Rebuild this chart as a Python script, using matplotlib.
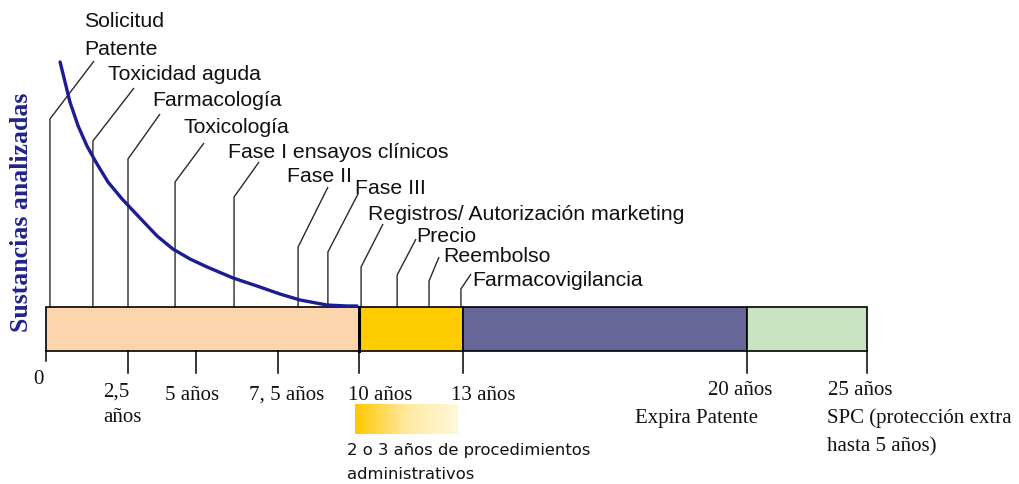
import numpy as np
import matplotlib
matplotlib.use("Agg")
import matplotlib.pyplot as plt
from matplotlib.colors import LinearSegmentedColormap

# ---------------- data ----------------
# timeline segments (years)
seg_start = [0, 10, 13, 20]
seg_end = [10, 13, 20, 25]
seg_colors = ["#FCD5AC", "#FFCC00", "#666699", "#C9E4C0"]

# tick positions (years)
tick_years = [0, 2.5, 5, 7.5, 10, 13, 20, 25]

# milestones: label and year where they happen
milestones = ["Solicitud\nPatente", "Toxicidad aguda", "Farmacología", "Toxicología",
              "Fase I ensayos clínicos", "Fase II", "Fase III",
              "Registros/ Autorización marketing", "Precio", "Reembolso",
              "Farmacovigilancia"]
milestone_years = [0.12, 1.43, 2.5, 4.23, 6.16, 8.12, 9.04, 10.06, 11.10, 12.02, 12.94]

# "sustancias analizadas" curve (relative amount vs years)
curve_years = [0.43, 0.58, 0.73, 0.98, 1.25, 1.52, 1.89, 2.32, 2.87, 3.57, 4.15,
               4.78, 5.34, 6.13, 6.86, 7.56, 8.18, 9.01, 9.63, 9.94]
curve_vals = [245, 225, 205, 181, 161, 145, 125, 108, 91, 71, 58,
              48, 40, 29, 21, 13, 7, 2, 1, 1]

# ---------------- layout ----------------
W, H = 1019, 485
BASE_Y = 308  # pixel row of bar top

# piecewise scale: years -> pixel column (the original diagram is not linear)
scale_years = [-1.4024, 0, 2.5, 5, 7.5, 10, 13, 20, 25, 31.333]
scale_px = [0, 46, 128, 196, 278, 359, 463, 747, 867, 1019]


def fwd(y):
    return np.interp(y, scale_years, scale_px)


def inv(p):
    return np.interp(p, scale_px, scale_years)


def py2v(py):
    return BASE_Y - py


fig = plt.figure(figsize=(W / 100, H / 100), dpi=100)
ax = fig.add_axes([0, 0, 1, 1])
ax.set_xscale("function", functions=(fwd, inv))
ax.set_xlim(scale_years[0], scale_years[-1])
ax.set_ylim(py2v(H), py2v(0))
ax.axis("off")

SANS = "Liberation Sans"
SERIF = "Liberation Serif"


def ftext(px, py, s, **kw):
    fig.text(px / W, 1 - py / H, s, **kw)


# bar segments
bar_bottom = py2v(352)
bar_h = 0 - bar_bottom
for s0, s1, c in zip(seg_start, seg_end, seg_colors):
    ax.bar(s0, bar_h, width=s1 - s0, bottom=bar_bottom, align="edge",
           color=c, edgecolor="black", linewidth=1.2, zorder=2)
# thicker boundary at 10 years
ax.plot([10, 10], [bar_bottom, 0], color="black", lw=2.2, zorder=3)

# ticks under bar
for t in tick_years:
    y_end = py2v(362) if t == 0 else py2v(374)
    ax.plot([t, t], [bar_bottom, y_end], color="black", lw=1.1, zorder=2)

# milestone leader lines: vertical then diagonal
knee_py = [120, 142, 160, 183, 198, 248, 253, 268, 276, 282, 290]
tip_px = [94, 134, 160, 204, 259, 328, 358, 383, 416, 439, 471]
tip_py = [62, 89, 115, 144, 163, 188, 195, 225, 240, 258, 275]
label_px = [84, 108, 152, 184, 228, 287, 355, 368, 416, 443, 472]
label_py = [27, 80, 106, 133, 158, 182, 194, 220, 242, 262, 286]

for name, yr, kp, tx, ty, lx, ly in zip(milestones, milestone_years, knee_py,
                                          tip_px, tip_py, label_px, label_py):
    xs = [yr, yr, inv(tx)]
    ys = [0, py2v(kp), py2v(ty)]
    ax.plot(xs, ys, color="#2a2a2a", lw=1.0, zorder=1, solid_capstyle="butt")
    lines = name.split("\n")
    for i, ln in enumerate(lines):
        ftext(lx, ly + i * 28, ln, fontsize=15.3, family=SANS, color="#111111",
              va="baseline", ha="left")

# curve
ax.plot(curve_years, curve_vals, color="#1c1c94", lw=2.4, zorder=4,
        solid_capstyle="round", solid_joinstyle="round")

# y label
ftext(22, 212, "Sustancias analizadas", rotation=90, fontsize=18.5,
      family=SERIF, fontweight="bold", color="#22228c", ha="center", va="center")

# tick labels (serif)
ser = dict(family=SERIF, fontsize=15, color="#111111", va="baseline")
ftext(38, 384, "0", ha="center", **ser)
ftext(103, 397, "2,5", ha="left", **ser)
ftext(103, 422, "años", ha="left", **ser)
ftext(165, 400, "5 años", ha="left", **ser)
ftext(249, 400, "7, 5 años", ha="left", **ser)
ftext(348, 400, "10 años", ha="left", **ser)
ftext(451, 400, "13 años", ha="left", **ser)
ftext(772, 395, "20 años", ha="right", **ser)
ftext(635, 423, "Expira Patente", ha="left", **ser)
ftext(828, 395, "25 años", ha="left", **ser)
ftext(827, 423, "SPC (protección extra", ha="left", **ser)
ftext(827, 451, "hasta 5 años)", ha="left", **ser)

# gradient box for administrative procedures
cmap = LinearSegmentedColormap.from_list("g", ["#FFC800", "#FFE9A0", "#FFF8DC"])
grad = np.linspace(0, 1, 256).reshape(1, -1)
ax.imshow(grad, cmap=cmap, aspect="auto",
          extent=[inv(355), inv(458), py2v(435), py2v(405)], zorder=1)
ax.set_xlim(scale_years[0], scale_years[-1])
ax.set_ylim(py2v(H), py2v(0))

ftext(347, 455, "2 o 3 años de procedimientos", family="DejaVu Sans",
      fontsize=11.8, color="#111111", va="baseline", ha="left")
ftext(347, 479, "administrativos", family="DejaVu Sans",
      fontsize=11.8, color="#111111", va="baseline", ha="left")

fig.savefig("out.png", dpi=100)
